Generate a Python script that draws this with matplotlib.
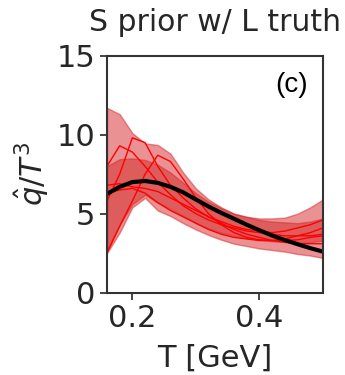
import numpy as np
import matplotlib.pyplot as plt

T = [0.16, 0.18, 0.20, 0.22, 0.24, 0.26, 0.28, 0.30, 0.32, 0.34,
     0.36, 0.38, 0.40, 0.42, 0.44, 0.46, 0.48, 0.50]

# credible bands (outer / inner)
outer_hi = [11.7, 11.3, 10.1, 9.45, 9.35, 8.8, 7.6, 6.6, 5.9, 5.4,
            5.0, 4.8, 4.7, 4.7, 4.75, 5.0, 5.4, 5.9]
outer_lo = [2.5, 3.8, 5.4, 6.0, 5.2, 4.85, 4.4, 4.0, 3.65, 3.35,
            3.1, 2.95, 2.8, 2.7, 2.6, 2.45, 2.35, 2.2]
inner_hi = [8.0, 8.45, 8.5, 8.4, 8.1, 7.6, 6.95, 6.3, 5.75, 5.35,
            5.0, 4.8, 4.6, 4.5, 4.45, 4.4, 4.5, 4.7]
inner_lo = [2.7, 4.3, 5.6, 6.2, 5.7, 5.3, 4.85, 4.4, 4.05, 3.8,
            3.6, 3.45, 3.35, 3.25, 3.2, 3.15, 3.2, 3.3]

# posterior samples
samples = [
    [8.0, 9.3, 8.9, 8.0, 7.0, 6.2, 5.5, 5.0, 4.6, 4.3, 4.1, 3.9, 3.8, 3.7, 3.6, 3.6, 3.6, 3.7],
    [5.8, 7.5, 9.8, 9.5, 8.0, 6.8, 6.0, 5.3, 4.8, 4.5, 4.2, 4.0, 3.9, 3.8, 3.9, 4.1, 4.3, 4.6],
    [2.5, 4.2, 5.8, 7.5, 8.7, 8.3, 7.2, 6.0, 5.0, 4.3, 3.8, 3.5, 3.35, 3.3, 3.3, 3.35, 3.5, 3.6],
    [6.8, 6.9, 6.7, 6.6, 6.4, 6.0, 5.6, 5.2, 4.8, 4.4, 4.0, 3.7, 3.5, 3.3, 3.2, 3.1, 3.1, 3.1],
    [6.3, 6.5, 6.6, 6.3, 5.7, 5.2, 4.8, 4.4, 4.0, 3.7, 3.5, 3.4, 3.3, 3.3, 3.4, 3.6, 3.8, 4.1],
]

# truth curve
truth = [6.25, 6.7, 7.0, 7.07, 6.95, 6.7, 6.35, 5.9, 5.45, 5.05,
         4.68, 4.3, 3.95, 3.62, 3.33, 3.07, 2.82, 2.6]

plt.rcParams['font.family'] = 'DejaVu Sans'
dark = '#262626'

fig = plt.figure(figsize=(3.45, 3.75), dpi=100)
ax = fig.add_axes([0.310, 0.2195, 0.626, 0.632])

ax.fill_between(T, outer_lo, outer_hi, color='tab:red', alpha=0.5)
ax.fill_between(T, inner_lo, inner_hi, color='tab:red', alpha=0.5)
for s in samples:
    ax.plot(T, s, color='red', lw=1)
ax.plot(T, truth, color='black', lw=3)

ax.set_xlim(0.16, 0.5)
ax.set_ylim(0, 15)
ax.set_xticks([0.2, 0.4])
ax.set_yticks([0, 5, 10, 15])
ax.tick_params(labelsize=22, colors=dark, length=5, width=1.2)
for sp in ax.spines.values():
    sp.set_color('#333333')
    sp.set_linewidth(1.5)

ax.set_xlabel('T [GeV]', fontsize=22, color=dark, labelpad=7)
ax.set_ylabel(r'$\hat{q}/T^3$', fontsize=22, color=dark)
ax.set_title('S prior w/ L truth', fontsize=21.5, color=dark, pad=18)
ax.text(0.93, 0.93, '(c)', transform=ax.transAxes, ha='right', va='top',
        fontsize=20, family='Liberation Sans', color='black')

fig.savefig('out.png', dpi=100)
